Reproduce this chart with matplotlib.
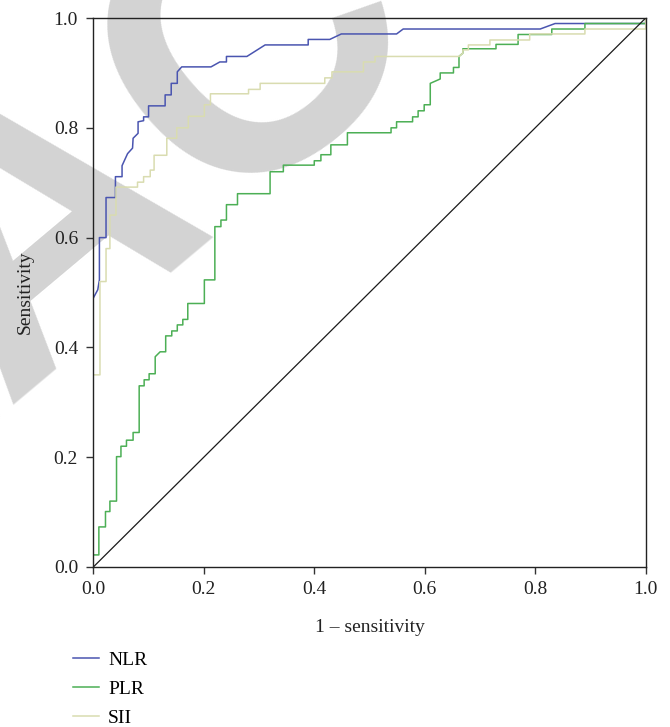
import matplotlib

matplotlib.use("Agg")
import matplotlib.pyplot as plt
from matplotlib.lines import Line2D

SERIF = "Liberation Serif"

# ROC points (1 - specificity, sensitivity)
NLR_FPR = [0.000, 0.008, 0.011, 0.011, 0.023, 0.023, 0.040, 0.040, 0.052, 0.052,
           0.062, 0.071, 0.072, 0.081, 0.081, 0.091, 0.091, 0.100, 0.100, 0.130,
           0.130, 0.141, 0.141, 0.152, 0.152, 0.160, 0.213, 0.229, 0.241, 0.241,
           0.278, 0.311, 0.389, 0.389, 0.428, 0.449, 0.549, 0.561, 0.809, 0.836,
           1.000, 1.000]
NLR_TPR = [0.490, 0.505, 0.523, 0.600, 0.600, 0.673, 0.673, 0.711, 0.711, 0.731,
           0.753, 0.763, 0.781, 0.790, 0.811, 0.813, 0.820, 0.820, 0.840, 0.840,
           0.860, 0.860, 0.881, 0.881, 0.902, 0.911, 0.911, 0.920, 0.920, 0.930,
           0.930, 0.951, 0.951, 0.961, 0.961, 0.971, 0.971, 0.980, 0.980, 0.990,
           0.990, 1.000]

PLR_FPR = [0.000, 0.010, 0.010, 0.022, 0.022, 0.030, 0.030, 0.042, 0.042, 0.050,
           0.050, 0.060, 0.060, 0.072, 0.072, 0.083, 0.083, 0.092, 0.092, 0.101,
           0.101, 0.112, 0.112, 0.121, 0.131, 0.131, 0.142, 0.142, 0.152, 0.152,
           0.162, 0.162, 0.171, 0.171, 0.201, 0.201, 0.220, 0.220, 0.231, 0.231,
           0.241, 0.241, 0.261, 0.261, 0.320, 0.320, 0.344, 0.344, 0.400, 0.400,
           0.412, 0.412, 0.430, 0.430, 0.460, 0.460, 0.539, 0.539, 0.549, 0.549,
           0.578, 0.578, 0.588, 0.588, 0.599, 0.599, 0.610, 0.610, 0.628, 0.628,
           0.652, 0.652, 0.662, 0.662, 0.669, 0.669, 0.729, 0.729, 0.769, 0.769,
           0.830, 0.830, 0.890, 0.890, 1.000, 1.000]
PLR_TPR = [0.022, 0.022, 0.073, 0.073, 0.101, 0.101, 0.120, 0.120, 0.201, 0.201,
           0.220, 0.220, 0.231, 0.231, 0.245, 0.245, 0.330, 0.330, 0.341, 0.341,
           0.352, 0.352, 0.383, 0.392, 0.392, 0.421, 0.421, 0.430, 0.430, 0.441,
           0.441, 0.451, 0.451, 0.480, 0.480, 0.523, 0.523, 0.620, 0.620, 0.632,
           0.632, 0.660, 0.660, 0.680, 0.680, 0.720, 0.720, 0.732, 0.732, 0.740,
           0.740, 0.751, 0.751, 0.769, 0.769, 0.791, 0.791, 0.800, 0.800, 0.811,
           0.811, 0.820, 0.820, 0.831, 0.831, 0.842, 0.842, 0.881, 0.889, 0.900,
           0.900, 0.910, 0.910, 0.930, 0.936, 0.944, 0.944, 0.952, 0.952, 0.970,
           0.970, 0.980, 0.980, 0.990, 0.990, 1.000]

SII_FPR = [0.000, 0.012, 0.012, 0.023, 0.023, 0.030, 0.030, 0.041, 0.041, 0.080,
           0.080, 0.091, 0.091, 0.103, 0.103, 0.110, 0.110, 0.133, 0.133, 0.151,
           0.151, 0.172, 0.172, 0.201, 0.201, 0.212, 0.212, 0.281, 0.281, 0.302,
           0.302, 0.419, 0.419, 0.432, 0.432, 0.489, 0.489, 0.510, 0.510, 0.662,
           0.669, 0.669, 0.679, 0.679, 0.718, 0.718, 0.790, 0.790, 0.890, 0.890,
           1.000, 1.000]
SII_TPR = [0.350, 0.350, 0.520, 0.520, 0.580, 0.580, 0.641, 0.641, 0.692, 0.692,
           0.701, 0.701, 0.711, 0.711, 0.723, 0.723, 0.750, 0.750, 0.781, 0.781,
           0.800, 0.800, 0.821, 0.821, 0.842, 0.842, 0.862, 0.862, 0.870, 0.870,
           0.881, 0.881, 0.891, 0.891, 0.902, 0.902, 0.920, 0.920, 0.930, 0.930,
           0.936, 0.942, 0.942, 0.951, 0.951, 0.960, 0.960, 0.971, 0.971, 0.980,
           0.980, 1.000]

SERIES = [
    ("NLR", NLR_FPR, NLR_TPR, "#4a55b0"),
    ("PLR", PLR_FPR, PLR_TPR, "#4caf55"),
    ("SII", SII_FPR, SII_TPR, "#d9dcb0"),
]

TICKS = [0.0, 0.2, 0.4, 0.6, 0.8, 1.0]


def main():
    fig = plt.figure(figsize=(6.7, 7.27), dpi=100)

    # grey retraction stamp sits behind everything
    fig.text(0.0657, 0.6878, "RETRACTED", fontsize=280, family="Liberation Sans",
             weight="bold", color="#d3d3d3", rotation=40, ha="center",
             va="center", rotation_mode="anchor", zorder=-5)

    ax = fig.add_axes([0.1393, 0.2201, 0.8244, 0.7551])
    ax.set_facecolor("none")

    for name, xs, ys, color in SERIES:
        ax.plot(xs, ys, color=color, linewidth=1.1, label=name)
    ax.plot([0, 1], [0, 1], color="#1a1a1a", linewidth=0.9)

    ax.set_xlim(0, 1)
    ax.set_ylim(0, 1)
    ax.set_xticks(TICKS)
    ax.set_yticks(TICKS)
    ax.set_xticklabels([f"{t:.1f}" for t in TICKS], family=SERIF, fontsize=14)
    ax.set_yticklabels([f"{t:.1f}" for t in TICKS], family=SERIF, fontsize=14)
    ax.tick_params(direction="out", length=5, width=1.0, color="#333333",
                   labelcolor="#222222")
    ax.tick_params(axis="x", pad=5)
    ax.tick_params(axis="y", pad=6)
    for spine in ax.spines.values():
        spine.set_color("#222222")
        spine.set_linewidth(1.0)

    ax.set_xlabel("1 – sensitivity", family=SERIF, fontsize=14, color="#222222",
                  labelpad=15)
    ax.set_ylabel("Sensitivity", family=SERIF, fontsize=14, color="#222222",
                  labelpad=14)

    handles = [Line2D([], [], color=c, linewidth=1.1) for _, _, _, c in SERIES]
    labels = [n for n, _, _, _ in SERIES]
    fig.legend(handles, labels, loc="upper left", bbox_to_anchor=(0.109, 0.104),
               frameon=False, prop={"family": SERIF, "size": 14},
               handlelength=1.35, handletextpad=0.45, labelspacing=0.58,
               borderpad=0, borderaxespad=0)

    fig.savefig("out.png", dpi=100)


if __name__ == "__main__":
    main()
